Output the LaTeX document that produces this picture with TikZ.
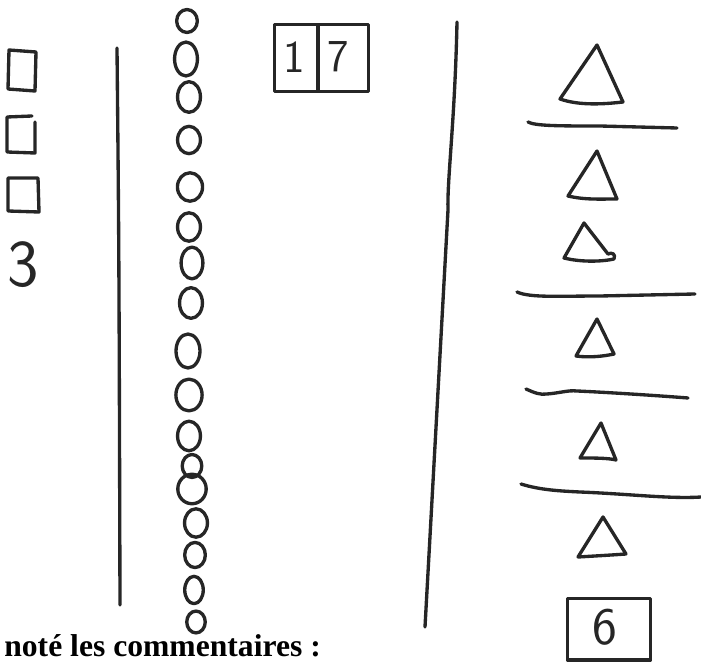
\documentclass[tikz,border=0pt]{standalone}
\usepackage{fontspec}
\newfontfamily\printfont{Liberation Serif}
\usetikzlibrary{calc}

\begin{document}
\begin{tikzpicture}[x=0.02cm,y=-0.02cm,
  pen/.style={black!85,line width=1.9pt,line cap=round,line join=round},
  digit/.style={black!85,inner sep=0pt,font=\sffamily\fontsize{#1}{#1}\selectfont},
  cell/.style={pen,draw,inner sep=0pt,minimum height=1.34cm}]
\useasboundingbox (0,0) rectangle (701,662);
% left column: three squares and their count
\draw[pen] (9,50) -- (36,52) -- (35,91) -- (8,89) -- cycle;
\draw[pen] (32,116) -- (7,117) -- (7,152) -- (35,153) -- (35,122);
\draw[pen] (8,178) -- (38,178) -- (39,212) -- (8,211) -- cycle;
\node[digit=38] (three) at (23,265) {3};
\draw[pen] (117,48) .. controls (119,250) .. (120,605);
% the seventeen rounds
\foreach \x/\y/\w/\h in {187/21/17/19, 186/59/19/29, 189/97/19/26, 189/140/19/23,
  190/187/21/24, 189/227/19/24, 192/263/18/27, 191/303/19/26, 188/351/20/29,
  189/395/22/27, 189/436/19/25, 192/466/16/19, 192/489/24/25, 196/523/19/24,
  195/555/17/21, 194/590/15/23, 196/622/15/18}
  \draw[pen] (\x,\y) ellipse [x radius=\w*0.011cm+0.02cm, y radius=\h*0.011cm+0.02cm];
\node[cell,minimum width=0.88cm] (tens) at (296.25,58) {};
\node[cell,minimum width=1.01cm] (units) at (343.25,58) {};
\node[digit=26] (one) at (294,57) {1};
\node[digit=26] (seven) at (338,57) {7};
\draw[pen] (457,22) .. controls (455,120) and (447,180) .. (448,210) -- (425,627);
% right column: triangles in groups
\draw[pen] (597,45) -- (560,99) .. controls (580,106) and (605,104) .. (623,102) -- cycle;
\draw[pen] (528,122) .. controls (535,126) and (560,126) .. (600,126) -- (677,128);
\draw[pen] (597,151) -- (568,196) .. controls (585,200) and (600,199) .. (617,199) -- cycle;
\draw[pen] (584,223) -- (564,258) .. controls (580,262) and (600,262) .. (614,259)
  .. controls (616,254) and (612,252) .. (608,254) -- cycle;
\draw[pen] (517,292) .. controls (530,298) and (560,296) .. (600,296) -- (695,294);
\draw[pen] (597,319) -- (576,356) .. controls (590,358) and (605,356) .. (614,354) -- cycle;
\draw[pen] (526,389) .. controls (535,393) and (540,395) .. (547,394)
  .. controls (560,393) and (568,390) .. (577,391) .. controls (600,392) and (650,395) .. (688,398);
\draw[pen] (601,423) -- (580,458) .. controls (595,458) and (608,458) .. (616,460) -- cycle;
\draw[pen] (521,484) .. controls (540,490) and (560,491) .. (580,492) .. controls (630,494) and (670,499) .. (701,497);
\draw[pen] (603,517) -- (578,557) .. controls (595,556) and (612,555) .. (626,554) -- cycle;
\node[cell,minimum width=1.66cm,minimum height=1.23cm] (total) at (609,629.25) {};
\node[digit=30] (six) at (605,627) {6};
% printed text below the sketch
\node[anchor=base west,inner sep=0pt,font=\printfont\bfseries\fontsize{18}{18}\selectfont] (note) at (4,656.5) {noté les commentaires :};
\end{tikzpicture}
\end{document}
